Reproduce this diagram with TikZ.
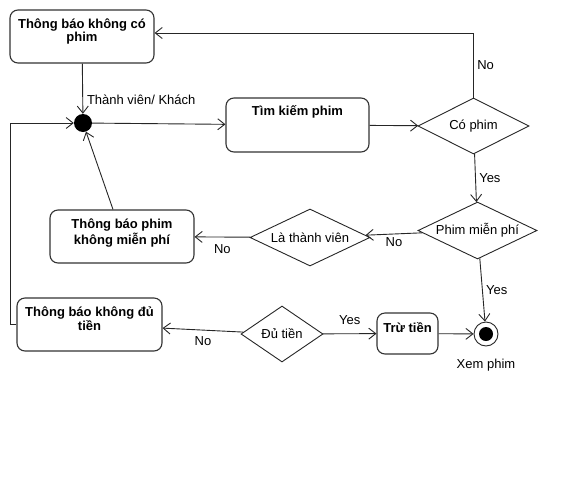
\documentclass[tikz,border=0pt]{standalone}
\usepackage{fontspec}
\setmainfont{Liberation Sans}
\usetikzlibrary{arrows.meta,shapes.geometric}

\tikzset{
  txt/.style={font=\fontsize{13}{12.5}\selectfont},
  title/.style={anchor=north,align=center,inner sep=0pt,yshift=-9.5pt,font=\fontsize{13}{12.5}\selectfont\bfseries},
  act/.style={draw=black!80,line width=1.1pt,rounded corners=8pt,inner sep=0pt},
  cond/.style={draw=black!85,line width=0.9pt,diamond,inner sep=0pt,txt},
  start/.style={circle,fill=black,minimum size=18pt,inner sep=0pt},
  finish/.style={circle,draw=black!85,line width=0.9pt,minimum size=24pt,inner sep=0pt,
    path picture={\fill (path picture bounding box.center) circle (7pt);}},
  flow/.style={draw=black!85,line width=0.9pt,-{Straight Barb[length=7pt,width=11pt]}}
}

\begin{document}
\begin{tikzpicture}[x=1pt,y=-1pt]
\useasboundingbox (0,0) rectangle (578,488);
\node[act,minimum width=144pt,minimum height=53pt,label={[title]north:Thông báo không có\\phim}] (nocophim) at (82,36.5) {};
\node[start] (start) at (83,123) {};
\node[txt,anchor=west] (member) at (83.5,100) {Thành viên/ Khách};
\node[act,minimum width=143pt,minimum height=54pt,label={[title,yshift=2pt]north:Tìm kiếm phim}] (search) at (297.5,125) {};
\node[cond,aspect=2,minimum width=111pt,minimum height=56pt] (hasfilm) at (473.5,126) {Có phim};
\node[cond,aspect=2.1,minimum width=119pt,minimum height=57pt] (free) at (477.5,230.5) {Phim miễn phí};
\node[cond,aspect=2.1,minimum width=120pt,minimum height=57pt] (ismember) at (310,237.5) {Là thành viên};
\node[act,minimum width=144pt,minimum height=53pt,label={[title]north:Thông báo phim\\không miễn phí}] (notfree) at (122,236.5) {};
\node[act,minimum width=145pt,minimum height=53pt,label={[title]north:Thông báo không đủ\\tiền}] (nomoney) at (89.5,324.5) {};
\node[cond,aspect=1.5,minimum width=82pt,minimum height=56pt] (enough) at (282,334) {Đủ tiền};
\node[act,minimum width=61pt,minimum height=41pt,label={[title]north:Trừ tiền}] (pay) at (407.5,333.5) {};
\node[finish,label={[txt,label distance=9pt]below:Xem phim}] (watch) at (486,334) {};

\draw[flow] (nocophim) -- (start);
\draw[flow] (start) -- (search);
\draw[flow] (search) -- (hasfilm);
\draw[flow] (hasfilm.north) |- node[txt,pos=.25,right]{No} ([yshift=3.5pt]nocophim.east);
\draw[flow] (hasfilm) -- node[txt,right]{Yes} (free);
\draw[flow] (free) -- node[txt,below]{No} (ismember);
\draw[flow] (ismember) -- node[txt,below,yshift=-4pt]{No} (notfree);
\draw[flow] ([xshift=-9pt]notfree.north) -- (start);
\draw[flow] (nomoney.west) -- ++(-6,0) |- (start);
\draw[flow] (enough) -- node[txt,below,yshift=-3pt]{No} (nomoney);
\draw[flow] (enough) -- node[txt,above,yshift=5pt]{Yes} (pay);
\draw[flow] (pay) -- (watch);
\draw[flow] (free) -- node[txt,right]{Yes} (watch);
\end{tikzpicture}
\end{document}
